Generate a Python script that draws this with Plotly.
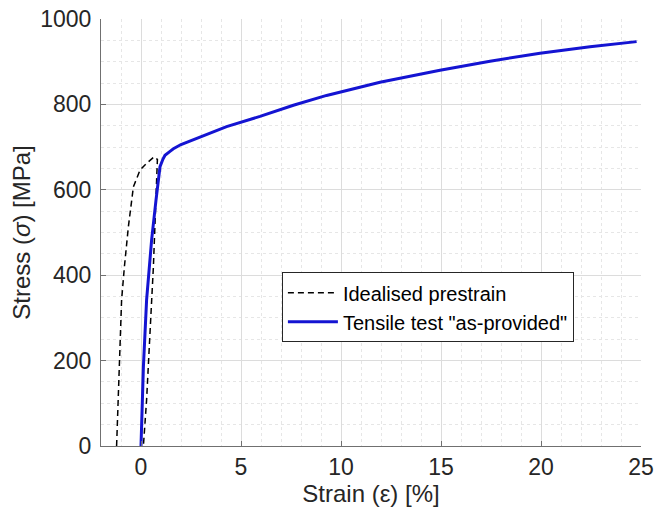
import plotly.graph_objects as go

# Idealised prestrain (dashed)
pre_strain = [-1.22, -1.15, -1.08, -0.97, -0.83, -0.63, -0.38, -0.05, 0.28, 0.65, 0.82,
              0.75, 0.62, 0.45, 0.28, 0.12]
pre_stress = [0, 100, 201, 342, 420, 514, 607, 646, 662, 677, 671,
              576, 420, 265, 108, 0]

# Tensile test "as-provided" (solid blue)
tt_strain = [0.0, 0.12, 0.28, 0.53, 0.75, 0.95, 1.1, 1.2, 1.45, 1.62, 2.0, 2.62, 2.95, 4.28,
             5.95, 7.62, 9.28, 10.78, 11.95, 14.95, 17.45, 19.95, 22.45, 24.78]
tt_stress = [0, 186, 342, 482, 576, 654, 672, 681, 690, 696, 706, 717, 724, 748,
             772, 798, 821, 839, 852, 880, 901, 920, 935, 947]

x_ticks = [0, 5, 10, 15, 20, 25]
y_ticks = [0, 200, 400, 600, 800, 1000]

fig = go.Figure()
fig.add_trace(go.Scatter(x=pre_strain, y=pre_stress, mode="lines",
                         name="Idealised prestrain",
                         line=dict(color="black", width=1.5, dash="6px,4px")))
fig.add_trace(go.Scatter(x=tt_strain, y=tt_stress, mode="lines",
                         name='Tensile test "as-provided"',
                         line=dict(color="#1414d2", width=3)))

font = "Liberation Sans, Arial, sans-serif"
axis_common = dict(
    showline=True, linecolor="#707070", linewidth=1,
    ticks="inside", ticklen=5, tickcolor="#707070",
    showgrid=True, gridcolor="#dcdcdc", gridwidth=1,
    zeroline=False, automargin=False, ticklabeloverflow="allow",
    tickfont=dict(family=font, size=23, color="#262626"),
)

fig.update_xaxes(range=[-2, 25], tickvals=x_ticks,
                 minor=dict(dtick=1, tick0=0, showgrid=True, gridcolor="#e6e6e6",
                            griddash="dot", ticks=""),
                 title=dict(text="Strain (ε) [%]", standoff=2,
                            font=dict(family=font, size=24, color="#262626")),
                 **axis_common)
fig.update_yaxes(range=[0, 1000], tickvals=y_ticks,
                 minor=dict(dtick=50, tick0=0, showgrid=True, gridcolor="#e6e6e6",
                            griddash="dot", ticks=""),
                 title=dict(text="Stress (<i>σ</i>) [MPa]", standoff=2,
                            font=dict(family=font, size=24, color="#262626")),
                 ticklabelstandoff=4,
                 **axis_common)

# the page body has an 8px margin, so the figure is shrunk and offset accordingly
fig.update_layout(
    width=660, height=499,
    margin=dict(l=93, r=27, t=11, b=61),
    paper_bgcolor="white", plot_bgcolor="white",
    showlegend=True,
    legend=dict(x=0.335, y=0.407, xanchor="left", yanchor="top",
                bgcolor="white", bordercolor="#262626", borderwidth=1,
                font=dict(family=font, size=20, color="black"),
                itemwidth=50, tracegroupgap=0),
)

fig.write_html("out.html")
